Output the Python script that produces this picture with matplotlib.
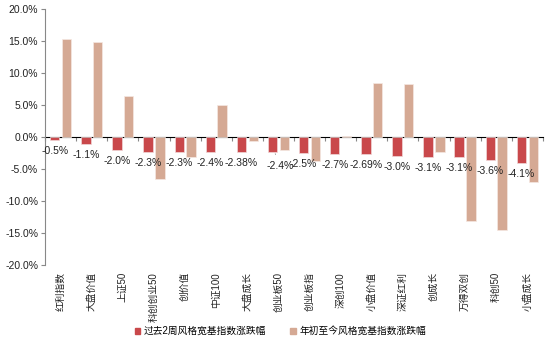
import numpy as np
import matplotlib
matplotlib.use("Agg")
import matplotlib.pyplot as plt
from matplotlib.patches import Patch
from matplotlib.ticker import FuncFormatter

plt.rcParams['font.family'] = ['Liberation Sans', 'Noto Sans CJK SC']

categories = ["红利指数", "大盘价值", "上证50", "科创创业50", "创价值", "中证100",
              "大盘成长", "创业板50", "创业板指", "深创100", "小盘价值", "深证红利",
              "创成长", "万得双创", "科创50", "小盘成长"]
# 过去2周 (%)
two_week = [-0.5, -1.1, -2.0, -2.3, -2.3, -2.4, -2.38, -2.4, -2.5, -2.7, -2.69,
            -3.0, -3.1, -3.1, -3.6, -4.1]
two_week_labels = ["-0.5%", "-1.1%", "-2.0%", "-2.3%", "-2.3%", "-2.4%", "-2.38%",
                   "-2.4%", "-2.5%", "-2.7%", "-2.69%", "-3.0%", "-3.1%", "-3.1%",
                   "-3.6%", "-4.1%"]
# 年初至今 (%)
ytd = [15.3, 14.9, 6.4, -6.6, -3.1, 5.0, -0.6, -2.1, -3.8, 0.2, 8.5, 8.3,
       -2.4, -13.1, -14.5, -7.1]

name1 = "过去2周风格宽基指数涨跌幅"
name2 = "年初至今风格宽基指数涨跌幅"
red = "#C9484B"
tan = "#D5A994"

fig = plt.figure(figsize=(5.5, 3.46), dpi=100)
ax = fig.add_axes([0.082, 0.234, 0.905, 0.74])

x = np.arange(len(categories))
w = 0.3
ax.bar(x - 0.19, two_week, w, color=red, edgecolor="#F0D8D8", linewidth=0.5)
ax.bar(x + 0.19, ytd, w, color=tan, edgecolor="#F5E8E2", linewidth=0.5)

for i, (v, lab) in enumerate(zip(two_week, two_week_labels)):
    if i == 7:
        ax.annotate(lab, (x[i] - 0.12, v), xytext=(4, -10), textcoords="offset points",
                    ha="center", va="center", fontsize=7.5, color="#222222",
                    arrowprops=dict(arrowstyle="-", color="#999999", lw=0.6,
                                    shrinkA=3, shrinkB=1))
    else:
        ax.annotate(lab, (x[i] - 0.19, v), xytext=(0, -8), textcoords="offset points",
                    ha="center", va="center", fontsize=7.5, color="#222222")

ax.set_xlim(-0.5, len(categories) - 0.5)
ax.set_ylim(-20, 20)
ax.set_yticks(np.arange(-20, 21, 5))
ax.yaxis.set_major_formatter(FuncFormatter(lambda v, p: "%.1f%%" % v))
ax.tick_params(axis="y", direction="out", length=3, color="#888888",
               labelsize=7.5, labelcolor="#222222", pad=2)

ax.set_xticks(x)
ax.set_xticklabels(categories, rotation=90, fontsize=7, color="#222222")
ax.tick_params(axis="x", length=0, pad=5)

for s in ["top", "right", "bottom"]:
    ax.spines[s].set_visible(False)
ax.spines["left"].set_color("#888888")
ax.spines["left"].set_linewidth(0.8)

# zero line with category boundary ticks
zero_ax = ax.secondary_xaxis(0.5)
zero_ax.set_xticks(np.arange(-0.5, len(categories), 1.0))
zero_ax.set_xticklabels([])
zero_ax.tick_params(direction="in", length=3, color="#888888", width=0.8)
zero_ax.spines["bottom"].set_color("#888888")
zero_ax.spines["bottom"].set_linewidth(0.8)

handles = [Patch(color=red), Patch(color=tan)]
fig.legend(handles, [name1, name2], loc="center", bbox_to_anchor=(0.51, 0.043),
           ncol=2, frameon=False, fontsize=7, handlelength=0.55, handleheight=0.55,
           handletextpad=0.4, columnspacing=2.5)

fig.savefig("out.png", dpi=100)
